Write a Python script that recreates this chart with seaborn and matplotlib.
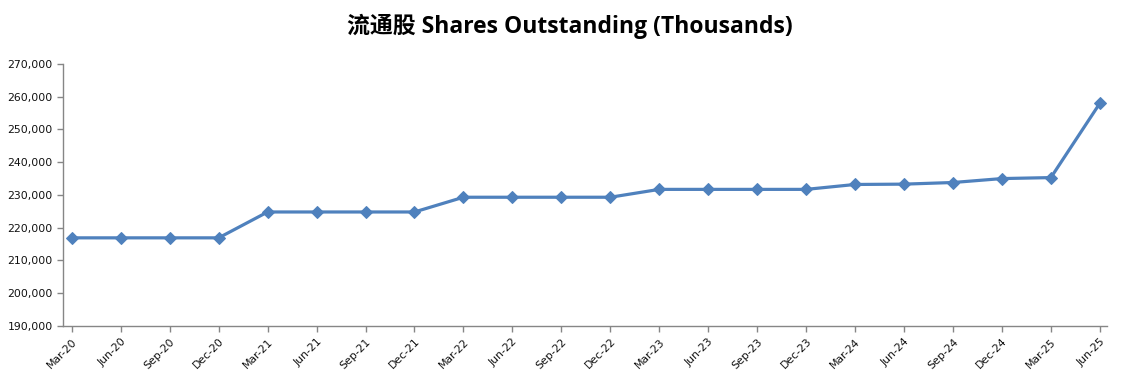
import numpy as np
import pandas as pd
import seaborn as sns
import matplotlib.pyplot as plt
from matplotlib.ticker import FuncFormatter

sns.set_style("white")
plt.rcParams['font.family'] = ['DejaVu Sans', 'Noto Sans CJK SC']

quarters = ['Mar-20', 'Jun-20', 'Sep-20', 'Dec-20', 'Mar-21', 'Jun-21', 'Sep-21',
            'Dec-21', 'Mar-22', 'Jun-22', 'Sep-22', 'Dec-22', 'Mar-23', 'Jun-23',
            'Sep-23', 'Dec-23', 'Mar-24', 'Jun-24', 'Sep-24', 'Dec-24', 'Mar-25',
            'Jun-25']
shares = [216900, 216900, 216900, 216900, 224800, 224800, 224800, 224800,
          229300, 229300, 229300, 229300, 231700, 231700, 231700, 231700,
          233200, 233300, 233800, 235000, 235300, 258000]

df = pd.DataFrame({'idx': np.arange(len(quarters)), 'shares': shares})

fig = plt.figure(figsize=(11.35, 3.83), dpi=100)
ax = fig.add_axes([0.0555, 0.149, 0.92, 0.684])

sns.lineplot(data=df, x='idx', y='shares', ax=ax, color='#4F81BD',
             linewidth=2.3, marker='D', markersize=6.5,
             markeredgecolor='#4F81BD')

ax.set_xlim(-0.18, 21.15)
ax.set_ylim(190000, 270000)
ax.set_yticks(np.arange(190000, 270001, 10000))
ax.yaxis.set_major_formatter(FuncFormatter(lambda v, p: f'{int(v):,}'))
ax.set_xticks(df['idx'])
ax.set_xticklabels(quarters, rotation=45, ha='right', rotation_mode='anchor')
ax.set_xlabel('')
ax.set_ylabel('')

for s in ['top', 'right']:
    ax.spines[s].set_visible(False)
for s in ['left', 'bottom']:
    ax.spines[s].set_color('#868686')
    ax.spines[s].set_linewidth(1)
ax.tick_params(axis='both', which='major', labelsize=7.8, colors='#868686',
               labelcolor='#111111', length=4, width=1, direction='out')
ax.tick_params(axis='both', left=True, bottom=True)

fig.text(0.502, 0.93, '流通股 Shares Outstanding (Thousands)', ha='center',
         va='center', fontsize=16.5, fontweight='bold', color='black',
         family=['Open Sans', 'Noto Sans CJK SC'])

plt.savefig('out.png', dpi=100)
